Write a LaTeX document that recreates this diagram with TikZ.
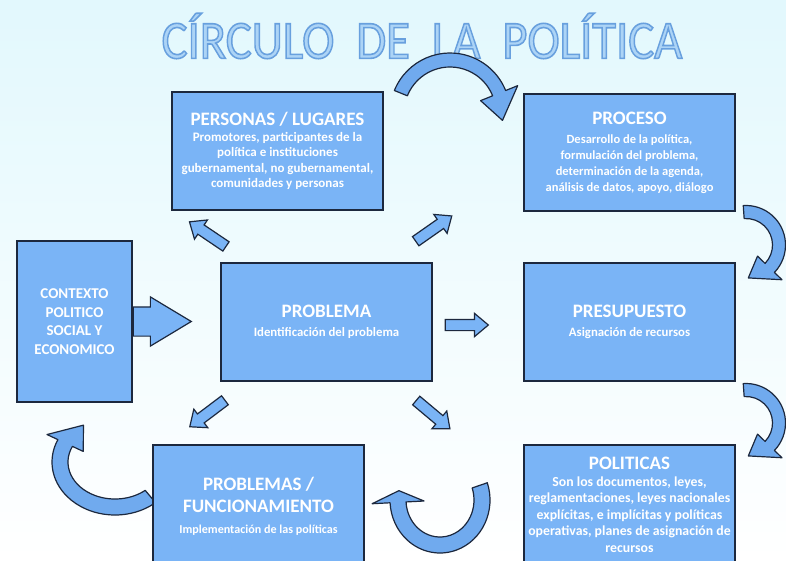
\documentclass[tikz,border=0pt]{standalone}
\usepackage{fontspec}
\setmainfont{Carlito}
\usetikzlibrary{shapes.arrows,positioning}

\definecolor{boxblue}{RGB}{122,180,246}
\definecolor{boxline}{RGB}{28,40,62}
\definecolor{arrowblue}{RGB}{112,170,238}
\definecolor{titlefill}{RGB}{172,212,246}
\definecolor{titleline}{RGB}{104,160,222}
\definecolor{bgtop}{RGB}{226,248,253}

\newcommand\boxhead[1]{{\fontsize{19}{22}\selectfont #1}}
% curved ribbon arrow: cx, cy, x radius, y radius, start, end, tip angle, half shaft, half head
\newcommand\bentarrow[9]{%
  \pgfmathsetmacro\rxo{#3+#8}\pgfmathsetmacro\ryo{#4+#8}%
  \pgfmathsetmacro\rxi{#3-#8}\pgfmathsetmacro\ryi{#4-#8}%
  \pgfmathsetmacro\rxh{#3+#9}\pgfmathsetmacro\ryh{#4+#9}%
  \pgfmathsetmacro\rxl{#3-#9}\pgfmathsetmacro\ryl{#4-#9}%
  \filldraw[bentArrow,shift={(#1,#2)}]
    ({\rxo*cos(#5)},{\ryo*sin(#5)})
    arc[start angle=#5,end angle=#6,x radius=\rxo,y radius=\ryo]
    -- ({\rxh*cos(#6)},{\ryh*sin(#6)}) -- ({#3*cos(#7)},{#4*sin(#7)})
    -- ({\rxl*cos(#6)},{\ryl*sin(#6)}) -- ({\rxi*cos(#6)},{\ryi*sin(#6)})
    arc[start angle=#6,end angle=#5,x radius=\rxi,y radius=\ryi] -- cycle;}

\tikzset{
  infoBox/.style={rectangle,draw=boxline,fill=boxblue,line width=1.4pt,
    text=white,align=center,inner sep=1pt,
    font=\bfseries\fontsize{12.8}{15.5}\selectfont},
  smallArrow/.style={single arrow,draw=boxline,fill=boxblue,line width=1.2pt,
    minimum height=44,minimum width=22,single arrow head extend=6,
    single arrow tip angle=80,inner xsep=0pt,inner ysep=5pt},
  bentArrow/.style={draw=boxline,fill=arrowblue,line width=1.2pt,line join=round},
  titleText/.style={font=\fontsize{54}{60}\selectfont,xscale=0.9,inner sep=0pt}
}

\begin{document}
\begin{tikzpicture}[x=1pt,y={(0,-1pt)}]
  \useasboundingbox (0,0) rectangle (786,560);
  \clip (0,0) rectangle (786,560);
  \shade[top color=bgtop,bottom color=white] (0,0) rectangle (786,560);

  % title, outlined letters
  \node[titleText] (title) at (422,36)
    {\color{titleline}\special{pdf:literal 0.675 0.831 0.965 rg 2 Tr 1.6 w}CÍRCULO\ \ DE\ \ LA\ \ POLÍTICA\special{pdf:literal 0 Tr}};

  % curved arrows
  \bentarrow{450}{113}{53}{53}{202}{338}{368}{7}{20}
  \bentarrow{746}{245}{33}{33}{-94}{44}{86}{6.5}{17}
  \bentarrow{746}{423}{33}{33}{-94}{44}{86}{6.5}{17}
  \bentarrow{440}{500}{42}{45}{-19}{177}{192}{8}{26}
  \bentarrow{115}{462}{55}{45}{50}{205}{235}{8}{20}

  % boxes
  \node[infoBox,minimum width=211,minimum height=118,
    font=\bfseries\fontsize{13}{15.5}\selectfont] (personas) at (277.5,151)
    {\boxhead{PERSONAS / LUGARES}\\Promotores, participantes de la\\política e instituciones\\gubernamental, no gubernamental,\\comunidades y personas};
  \node[infoBox,minimum width=211,minimum height=117,
    font=\bfseries\fontsize{12.5}{16}\selectfont] (proceso) at (629.5,152.5)
    {\boxhead{PROCESO}\\[3pt]Desarrollo de la política,\\formulación del problema,\\determinación de la agenda,\\análisis de datos, apoyo, diálogo};
  \node[infoBox,minimum width=115,minimum height=161,
    font=\bfseries\fontsize{15}{18.5}\selectfont] (contexto) at (74.5,321.5)
    {CONTEXTO\\POLITICO\\SOCIAL Y\\ECONOMICO};
  \node[infoBox,minimum width=211,minimum height=118] (problema) at (326.5,322)
    {\boxhead{PROBLEMA}\\[4pt]Identificación del problema};
  \node[infoBox,minimum width=211,minimum height=118] (presupuesto) at (629.5,322)
    {\boxhead{PRESUPUESTO}\\[4pt]Asignación de recursos};
  \node[infoBox,minimum width=211,minimum height=122,
    font=\bfseries\fontsize{12.1}{15.5}\selectfont] (funcionamiento) at (258.5,506)
    {\boxhead{PROBLEMAS /}\\[7pt]\boxhead{FUNCIONAMIENTO}\\[5pt]Implementación de las políticas};
  \node[infoBox,minimum width=211,minimum height=120,
    font=\bfseries\fontsize{13.8}{16.5}\selectfont] (politicas) at (629.5,505)
    {\boxhead{POLITICAS}\\Son los documentos, leyes,\\reglamentaciones, leyes nacionales\\explícitas, e implícitas y políticas\\operativas, planes de asignación de\\recursos};

  % straight arrows
  \node[single arrow,draw=boxline,fill=boxblue,line width=1.2pt,minimum height=58,
    minimum width=48,single arrow head extend=10,single arrow tip angle=62,
    inner xsep=0pt,inner ysep=14pt,anchor=tail] (ctxArrow) at (contexto.east) {};
  \node[smallArrow,rotate=146] (toPersonas) at (210.5,236) {};
  \node[smallArrow,rotate=35] (toProceso) at (431,230.5) {};
  \node[smallArrow,rotate=217] (toFuncionamiento) at (210,411.5) {};
  \node[smallArrow,rotate=-40] (toPoliticas) at (430.5,412.5) {};
  \node[smallArrow,minimum height=43] (toPresupuesto) at (463.5,325) {};
\end{tikzpicture}
\end{document}
